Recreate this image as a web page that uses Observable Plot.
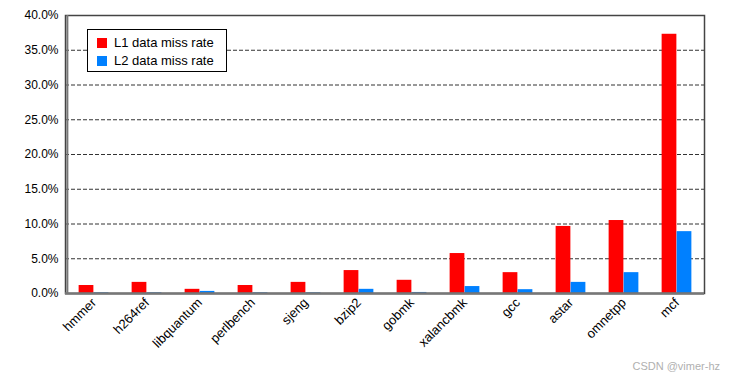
<!DOCTYPE html>
<html>
<head>
<meta charset="utf-8">
<script src="https://cdn.jsdelivr.net/npm/d3@7"></script>
<script src="https://cdn.jsdelivr.net/npm/@observablehq/plot@0.6"></script>
<style>
  html, body { margin: 0; padding: 0; background: #fff; }
  #wrap { position: relative; width: 730px; height: 377px; font-family: "Liberation Sans", Arial, sans-serif; }
  #legend { position: absolute; left: 87px; top: 29px; width: 140px; height: 43px; border: 1px solid #000; background: #fff; box-sizing: border-box; font-size: 13px; color: #000; }
  .row { position: absolute; left: 9px; display: flex; align-items: center; white-space: nowrap; }
  .sw { width: 10px; height: 10px; margin-right: 7px; }
  #wm { position: absolute; right: 10px; bottom: 5px; font-size: 11px; color: #b0b0b0; font-family: "Liberation Sans", Arial, sans-serif; }
</style>
</head>
<body>
<div id="wrap"></div>
<script>
const benchmarks = ["hmmer","h264ref","libquantum","perlbench","sjeng","bzip2","gobmk","xalancbmk","gcc","astar","omnetpp","mcf"];
const l1Rate = [1.15, 1.6, 0.6, 1.15, 1.6, 3.3, 1.9, 5.75, 3.0, 9.65, 10.5, 37.3];
const l2Rate = [0.1, 0.1, 0.3, 0.1, 0.1, 0.6, 0.15, 1.0, 0.55, 1.6, 3.0, 8.9];
const seriesNames = ["L1 data miss rate", "L2 data miss rate"];
const seriesColors = ["#ff0000", "#0080ff"];
const yTicks = [0, 5, 10, 15, 20, 25, 30, 35, 40];

const l1Data = benchmarks.map((b, i) => ({name: b, value: l1Rate[i]}));
const l2Data = benchmarks.map((b, i) => ({name: b, value: l2Rate[i]}));

const width = 730, height = 377;
const marginLeft = 65, marginRight = 26;
const band = (width - marginLeft - marginRight) / benchmarks.length;
const barW = 15;
const outer = band / 2 - barW;

const chart = Plot.plot({
  width, height,
  marginLeft, marginRight, marginTop: 15, marginBottom: 84,
  style: {fontFamily: "'Liberation Sans', Arial, sans-serif", fontSize: "12px", color: "#000", background: "#fff"},
  x: {domain: benchmarks, padding: 0, label: null},
  y: {domain: [0, 40], label: null},
  marks: [
    Plot.ruleY(yTicks.filter(t => t > 0 && t < 40), {stroke: "#333", strokeWidth: 1, strokeDasharray: "4,2"}),
    Plot.barY(l1Data, {x: "name", y: "value", fill: seriesColors[0], insetLeft: outer, insetRight: band / 2}),
    Plot.barY(l2Data, {x: "name", y: "value", fill: seriesColors[1], insetLeft: band / 2, insetRight: outer}),
    Plot.frame({stroke: "#444", strokeWidth: 1.5}),
    Plot.ruleX([benchmarks[0]], {stroke: "#777", strokeWidth: 2, dx: -band / 2}),
    Plot.ruleY([0], {stroke: "#777", strokeWidth: 2.5}),
    Plot.axisX({tickSize: 0, tickPadding: 7, tickRotate: -45, fontSize: 13, label: null}),
    Plot.axisY(yTicks, {tickSize: 0, tickPadding: 7, fontSize: 12, tickFormat: d => d.toFixed(1) + "%", label: null})
  ]
});

const wrap = document.getElementById("wrap");
wrap.appendChild(chart);

const legend = document.createElement("div");
legend.id = "legend";
seriesNames.forEach((n, i) => {
  const row = document.createElement("div");
  row.className = "row";
  row.style.top = (i === 0 ? 5 : 23) + "px";
  const sw = document.createElement("div");
  sw.className = "sw";
  sw.style.background = seriesColors[i];
  const t = document.createElement("span");
  t.textContent = n;
  row.appendChild(sw);
  row.appendChild(t);
  legend.appendChild(row);
});
wrap.appendChild(legend);

const wm = document.createElement("div");
wm.id = "wm";
wm.textContent = "CSDN @vimer-hz";
wrap.appendChild(wm);
</script>
</body>
</html>
